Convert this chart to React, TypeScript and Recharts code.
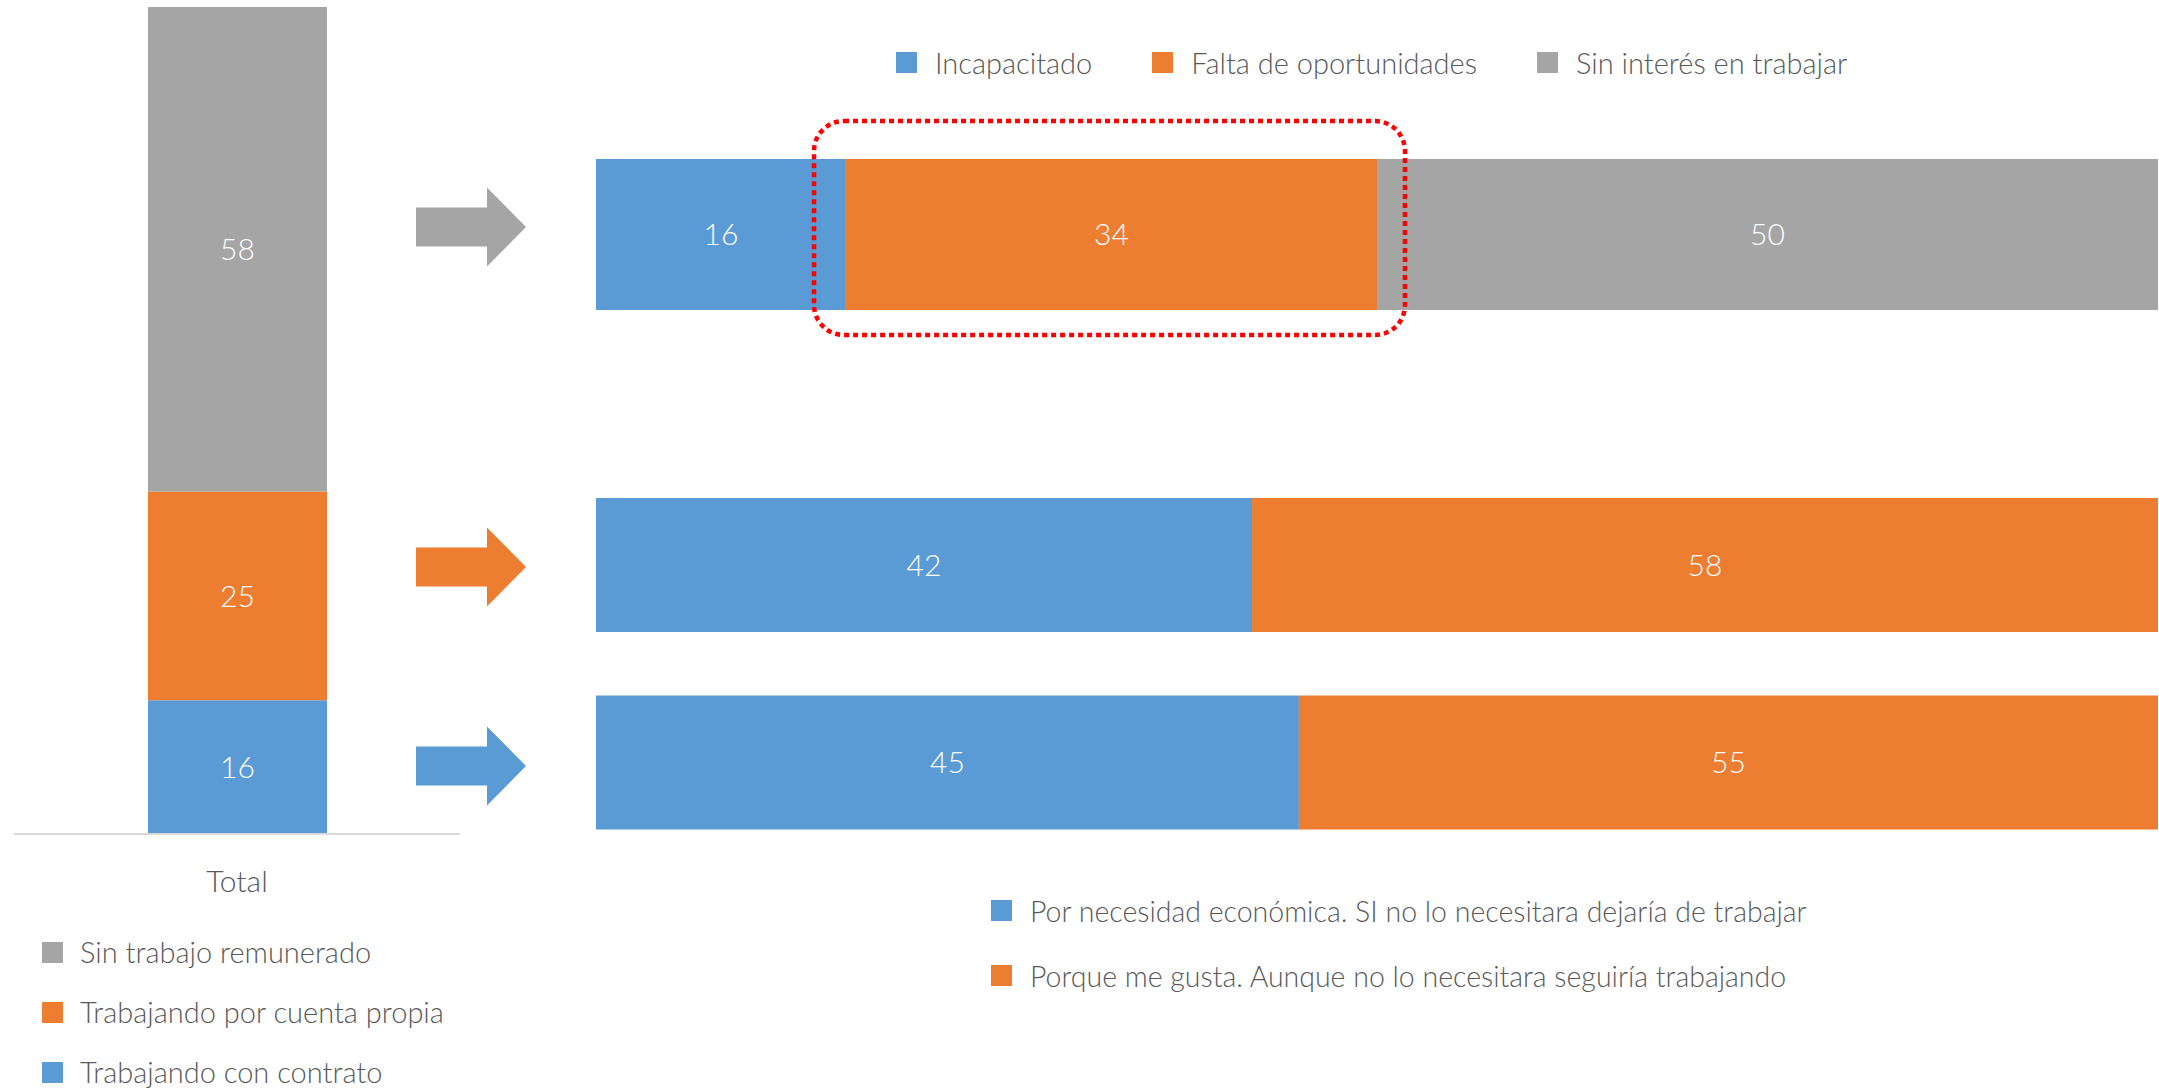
import React from 'react';
import { BarChart, Bar, XAxis, YAxis, LabelList } from 'recharts';

// left column: total population by work situation (bottom to top)
const totalCategories = ['Total'];
const workSeries = ['Trabajando con contrato', 'Trabajando por cuenta propia', 'Sin trabajo remunerado'];
const workValues = [16, 25, 58];

// top right: why they don't work
const noWorkSeries = ['Incapacitado', 'Falta de oportunidades', 'Sin interés en trabajar'];
const noWorkValues = [16, 34, 50];

// bottom right: why they work
const reasonCategories = ['Por cuenta propia', 'Con contrato'];
const reasonSeries = [
  'Por necesidad económica. SI no lo necesitara dejaría de trabajar',
  'Porque me gusta. Aunque no lo necesitara seguiría trabajando',
];
const reasonNecesidad = [42, 45];
const reasonGusta = [58, 55];

const BLUE = '#5B9BD5';
const ORANGE = '#ED7D31';
const GRAY = '#A5A5A5';
const TEXT = '#595959';
const AXIS = '#D9D9D9';
const FONT = 'Lato, "Open Sans", sans-serif';

const workColors = [BLUE, ORANGE, GRAY];
const noWorkColors = [BLUE, ORANGE, GRAY];
const reasonColors = [BLUE, ORANGE];

const totalData = totalCategories.map((name) => {
  const row: Record<string, any> = { name };
  workSeries.forEach((s, i) => (row[s] = workValues[i]));
  return row;
});

const noWorkData = [
  (() => {
    const row: Record<string, any> = { name: 'Sin trabajo' };
    noWorkSeries.forEach((s, i) => (row[s] = noWorkValues[i]));
    return row;
  })(),
];

const reasonData = reasonCategories.map((name, i) => ({
  name,
  [reasonSeries[0]]: reasonNecesidad[i],
  [reasonSeries[1]]: reasonGusta[i],
}));

const labelProps = {
  position: 'center' as const,
  fill: '#fff',
  fontSize: 30,
  fontWeight: 300,
  fontFamily: FONT,
};

const Swatch = ({ color }: { color: string }) => (
  <span style={{ display: 'inline-block', width: 21, height: 21, background: color, flex: 'none' }} />
);

// arrows between left stack and right bars (decoration)
const arrows = [
  { color: GRAY, cy: 227 },
  { color: ORANGE, cy: 567 },
  { color: BLUE, cy: 766 },
];

export default function App() {
  return (
    <div
      style={{
        position: 'absolute',
        left: 0,
        top: 0,
        width: 2159,
        height: 1088,
        background: '#fff',
        fontFamily: FONT,
        fontWeight: 300,
        color: TEXT,
        overflow: 'hidden',
      }}
    >
      {/* LEFT STACK */}
      <div style={{ position: 'absolute', left: 0, top: 0 }}>
        <BarChart width={480} height={900} data={totalData} margin={{ top: 7, right: 20, left: 14, bottom: 0 }}>
          <XAxis
            dataKey="name"
            height={66}
            axisLine={{ stroke: AXIS, strokeWidth: 2 }}
            tickLine={false}
            tickMargin={31}
            tick={{ fill: TEXT, fontSize: 30, fontWeight: 300, fontFamily: FONT }}
          />
          <YAxis hide domain={[0, 'dataMax']} />
          {workSeries.map((s, i) => (
            <Bar key={s} dataKey={s} stackId="a" fill={workColors[i]} barSize={179} isAnimationActive={false}>
              <LabelList dataKey={s} {...labelProps} />
            </Bar>
          ))}
        </BarChart>
      </div>

      {/* LEFT LEGEND */}
      <div style={{ position: 'absolute', left: 42, top: 922 }}>
        {[...workSeries].reverse().map((s, k) => {
          const i = workSeries.length - 1 - k;
          return (
            <div key={s} style={{ display: 'flex', alignItems: 'center', height: 60, gap: 17, fontSize: 29, lineHeight: '30px' }}>
              <Swatch color={workColors[i]} />
              <span>{s}</span>
            </div>
          );
        })}
      </div>

      {/* ARROWS */}
      <svg style={{ position: 'absolute', left: 0, top: 0 }} width={2159} height={1088}>
        {arrows.map((a) => (
          <polygon
            key={a.color}
            fill={a.color}
            points={`416,${a.cy - 19.5} 487,${a.cy - 19.5} 487,${a.cy - 39.5} 526,${a.cy} 487,${a.cy + 39.5} 487,${a.cy + 19.5} 416,${a.cy + 19.5}`}
          />
        ))}
      </svg>

      {/* TOP RIGHT LEGEND */}
      <div style={{ position: 'absolute', left: 896, top: 42, height: 40, display: 'flex', alignItems: 'center', fontSize: 29 }}>
        {noWorkSeries.map((s, i) => (
          <div key={s} style={{ display: 'flex', alignItems: 'center', gap: 18, marginRight: 60 }}>
            <Swatch color={noWorkColors[i]} />
            <span>{s}</span>
          </div>
        ))}
      </div>

      {/* TOP RIGHT BAR */}
      <div style={{ position: 'absolute', left: 560, top: 100 }}>
        <BarChart width={1599} height={260} data={noWorkData} layout="vertical" margin={{ top: 22, right: 1, left: 36, bottom: 13 }}>
          <XAxis type="number" hide domain={[0, 100]} />
          <YAxis type="category" dataKey="name" width={0} tick={false} tickLine={false} axisLine={{ stroke: AXIS, strokeWidth: 2 }} />
          {noWorkSeries.map((s, i) => (
            <Bar key={s} dataKey={s} stackId="a" fill={noWorkColors[i]} barSize={151} isAnimationActive={false}>
              <LabelList dataKey={s} {...labelProps} />
            </Bar>
          ))}
        </BarChart>
      </div>

      {/* HIGHLIGHT BOX */}
      <svg style={{ position: 'absolute', left: 0, top: 0 }} width={2159} height={1088}>
        <rect x={814} y={121} width={591} height={214} rx={30} ry={30} fill="none" stroke="#FF0000" strokeWidth={4.5} strokeDasharray="5 4" />
      </svg>

      {/* BOTTOM RIGHT BARS */}
      <div style={{ position: 'absolute', left: 560, top: 440 }}>
        <BarChart width={1599} height={440} data={reasonData} layout="vertical" margin={{ top: 26, right: 1, left: 36, bottom: 19 }}>
          <XAxis type="number" hide domain={[0, 100]} />
          <YAxis type="category" dataKey="name" width={0} tick={false} tickLine={false} axisLine={{ stroke: AXIS, strokeWidth: 2 }} />
          {reasonSeries.map((s, i) => (
            <Bar key={s} dataKey={s} stackId="a" fill={reasonColors[i]} barSize={134} isAnimationActive={false}>
              <LabelList dataKey={s} {...labelProps} />
            </Bar>
          ))}
        </BarChart>
      </div>

      {/* BOTTOM RIGHT LEGEND */}
      <div style={{ position: 'absolute', left: 991, top: 878 }}>
        {reasonSeries.map((s, i) => (
          <div key={s} style={{ display: 'flex', alignItems: 'center', height: 65, gap: 18, fontSize: 28.5 }}>
            <Swatch color={reasonColors[i]} />
            <span>{s}</span>
          </div>
        ))}
      </div>
    </div>
  );
}
